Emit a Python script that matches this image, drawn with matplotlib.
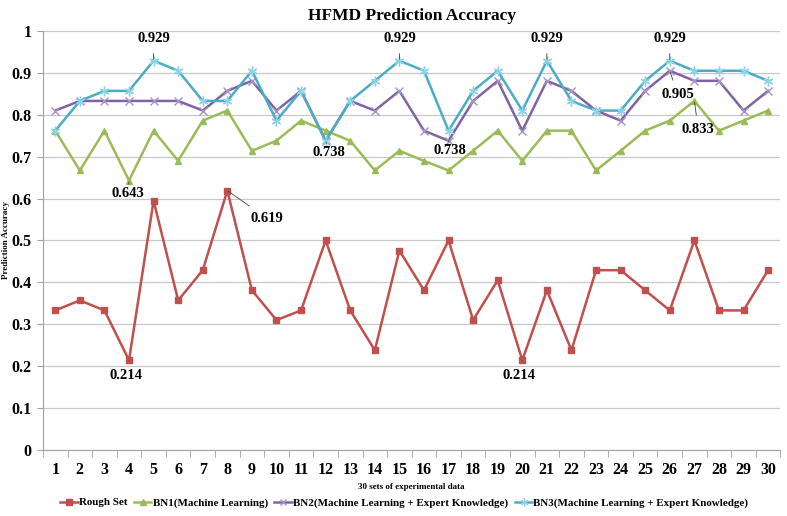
import matplotlib.pyplot as plt
import numpy as np

# ── Data ──────────────────────────────────────────────────────────────────────
sets = list(range(1, 31))

rough_set = [0.333, 0.357, 0.333, 0.214, 0.595, 0.357, 0.429, 0.619, 0.381, 0.310,
             0.333, 0.500, 0.333, 0.238, 0.476, 0.381, 0.500, 0.310, 0.405, 0.214,
             0.381, 0.238, 0.429, 0.429, 0.381, 0.333, 0.500, 0.333, 0.333, 0.429]

bn1 = [0.762, 0.667, 0.762, 0.643, 0.762, 0.690, 0.786, 0.810, 0.714, 0.738,
       0.786, 0.762, 0.738, 0.667, 0.714, 0.690, 0.667, 0.714, 0.762, 0.690,
       0.762, 0.762, 0.667, 0.714, 0.762, 0.786, 0.833, 0.762, 0.786, 0.810]

bn2 = [0.810, 0.833, 0.833, 0.833, 0.833, 0.833, 0.810, 0.857, 0.881, 0.810,
       0.857, 0.738, 0.833, 0.810, 0.857, 0.762, 0.738, 0.833, 0.881, 0.762,
       0.881, 0.857, 0.810, 0.786, 0.857, 0.905, 0.881, 0.881, 0.810, 0.857]

bn3 = [0.762, 0.833, 0.857, 0.857, 0.929, 0.905, 0.833, 0.833, 0.905, 0.786,
       0.857, 0.738, 0.833, 0.881, 0.929, 0.905, 0.762, 0.857, 0.905, 0.810,
       0.929, 0.833, 0.810, 0.810, 0.881, 0.929, 0.905, 0.905, 0.905, 0.881]

series_names = ['Rough Set', 'BN1(Machine Learning)',
                'BN2(Machine Learning + Expert Knowledge)',
                'BN3(Machine Learning + Expert Knowledge)']

# (series, set number, text offset in pixels)
labels = [
    (bn3, 5, (0, 22)),
    (bn3, 15, (0, 22)),
    (bn3, 21, (0, 22)),
    (bn3, 26, (0, 22)),
    (bn3, 12, (3, -12)),
    (bn1, 4, (-1, -13)),
    (bn2, 17, (1, -10)),
    (bn2, 26, (8, -24)),
    (bn1, 27, (4, -29)),
    (rough_set, 8, (40, -28)),
    (rough_set, 4, (-3, -15)),
    (rough_set, 20, (-3, -15)),
]

# ── Style ─────────────────────────────────────────────────────────────────────
plt.rcParams['font.family'] = ['Liberation Serif', 'DejaVu Serif']
plt.rcParams['font.weight'] = 'bold'

colors = ['#C0504D', '#9BBB59', '#8064A2', '#4BACC6']
marker_edges = ['#C0504D', '#9BBB59', '#A594C4', '#8FD3E6']
markers = ['s', '^', 'x', (6, 2, 0)]
sizes = [5, 5, 6, 7]

fig = plt.figure(figsize=(7.87, 5.16), dpi=100)
ax = fig.add_axes([0.0546, 0.128, 0.937, 0.812])

for vals, name, c, me, m, s in zip([rough_set, bn1, bn2, bn3], series_names,
                                   colors, marker_edges, markers, sizes):
    ax.plot(sets, vals, color=c, linewidth=1.8, marker=m, markersize=s,
            markerfacecolor=c, markeredgecolor=me, markeredgewidth=1.0,
            label=name, zorder=3)

for vals, k, (dx, dy) in labels:
    y = vals[k - 1]
    ax.annotate(f'{y:.3f}', xy=(k, y), xytext=(dx, dy), textcoords='offset pixels',
                ha='center', va='center', fontsize=10.5, fontweight='bold',
                arrowprops=dict(arrowstyle='-', color='#404040', lw=0.6,
                                shrinkA=4, shrinkB=1),
                zorder=5)

# ── Axes ──────────────────────────────────────────────────────────────────────
ax.set_xlim(0.5, 30.5)
ax.set_ylim(0, 1)
ax.set_yticks(np.arange(0, 1.01, 0.1))
ax.set_yticklabels(['0', '0.1', '0.2', '0.3', '0.4', '0.5', '0.6', '0.7', '0.8', '0.9', '1'])
ax.set_xticks(sets)
ax.set_xticks(np.arange(0.5, 30.6, 1), minor=True)
ax.tick_params(axis='x', which='major', length=0, pad=9, labelsize=11.5)
ax.tick_params(axis='x', which='minor', length=5, color='#A0A0A0', direction='out')
ax.tick_params(axis='y', length=4, color='#A0A0A0', pad=4, labelsize=11.5)
for t in ax.get_xticklabels() + ax.get_yticklabels():
    t.set_fontweight('bold')

ax.grid(axis='y', color='#C8C8C8', linewidth=0.9)
ax.set_axisbelow(True)
for side in ['top', 'right']:
    ax.spines[side].set_visible(False)
for side in ['left', 'bottom']:
    ax.spines[side].set_color('#A0A0A0')

ax.set_title('HFMD Prediction Accuracy', fontsize=12.5, fontweight='bold', pad=8)
ax.set_ylabel('Prediction Accuracy', fontsize=6.5, fontweight='bold')
ax.yaxis.set_label_coords(-0.045, 0.5)
ax.set_xlabel('30 sets of experimental data', fontsize=6.5, fontweight='bold')
ax.xaxis.set_label_coords(0.5, -0.08)

ax.legend(loc='center', bbox_to_anchor=(0.49, -0.126), ncol=4, frameon=False,
          prop={'size': 7.9, 'weight': 'bold'}, handlelength=1.6, handletextpad=0.1,
          columnspacing=0.6, markerscale=0.8)

fig.savefig('out.png', dpi=100, facecolor='white')
